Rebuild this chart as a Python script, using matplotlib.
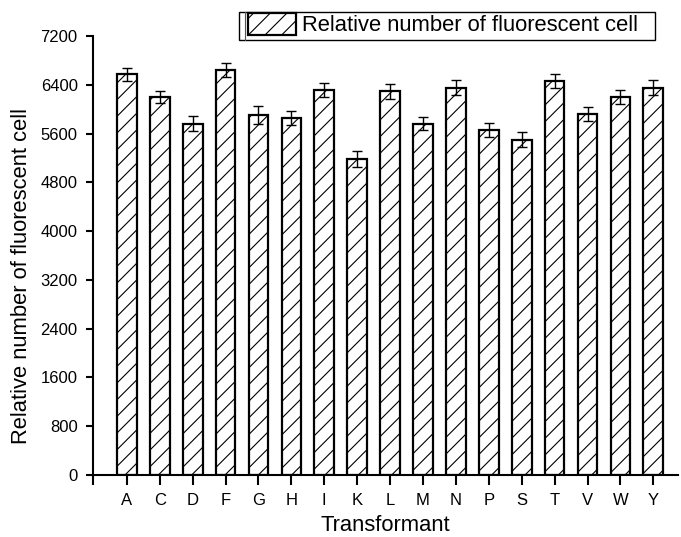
import matplotlib
matplotlib.use("Agg")
import matplotlib.pyplot as plt
from matplotlib.patches import Rectangle
from matplotlib.lines import Line2D
import numpy as np

plt.rcParams['font.family'] = ['Liberation Sans', 'DejaVu Sans']
plt.rcParams['hatch.linewidth'] = 0.8

categories = ['A', 'C', 'D', 'F', 'G', 'H', 'I', 'K', 'L', 'M', 'N', 'P', 'S', 'T', 'V', 'W', 'Y']
values = [6572, 6200, 5764, 6638, 5900, 5857, 6322, 5184, 6294, 5764, 6355, 5655, 5502, 6462, 5917, 6200, 6355]
errors = [110, 100, 125, 115, 148, 110, 115, 130, 126, 110, 120, 115, 130, 115, 115, 115, 120]
yticks = [0, 800, 1600, 2400, 3200, 4000, 4800, 5600, 6400, 7200]
legend_label = 'Relative number of fluorescent cell'

W, H = 681, 537
fig = plt.figure(figsize=(W/100, H/100), dpi=100)
ax = fig.add_axes([93/W, 1-475/H, (678-93)/W, (475-36)/H])

x = np.arange(len(categories))
ax.bar(x, values, width=0.6, color='white', edgecolor='black', linewidth=1.6,
       hatch='//', label=legend_label, zorder=2)
ax.errorbar(x, values, yerr=errors, fmt='none', ecolor='black', elinewidth=1.0,
            capsize=3.8, capthick=1.0, zorder=3)

ax.set_xlim(-1.03, 16.75)
ax.set_ylim(0, 7200)
ax.set_yticks(yticks)
ax.set_yticklabels([str(v) for v in yticks], fontsize=12)
ax.set_xticks([-1.03] + list(x))
ax.set_xticklabels([''] + categories, fontsize=12)

for s in ['top', 'right']:
    ax.spines[s].set_visible(False)
for s in ['left', 'bottom']:
    ax.spines[s].set_linewidth(1.5)
ax.tick_params(axis='y', direction='out', length=5, width=1.5, pad=6)
ax.tick_params(axis='x', direction='out', length=7, width=1.5, pad=6)

ax.set_ylabel(legend_label, fontsize=15.8)
ax.yaxis.set_label_coords((32 - 93)/585, (475-276)/439)
ax.set_xlabel('Transformant', fontsize=15.8, labelpad=5)

leg = ax.legend(loc='upper left', bbox_to_anchor=(248/W, 1-13/H),
                bbox_transform=fig.transFigure, fontsize=15.8, frameon=False,
                handlelength=2.2, handleheight=1.15, handletextpad=0.25,
                borderpad=0, borderaxespad=0)

# legend frame (drawn in figure pixels)
fig.add_artist(Rectangle((239/W, 1-40/H), (655-239)/W, (40-11.7)/H,
                         transform=fig.transFigure, fill=False,
                         edgecolor='black', linewidth=1.0))
fig.add_artist(Line2D([245/W, 245/W], [1-40/H, 1-11.7/H],
                      transform=fig.transFigure, color='#555555', linewidth=0.8))

fig.savefig('out.png', dpi=100)
